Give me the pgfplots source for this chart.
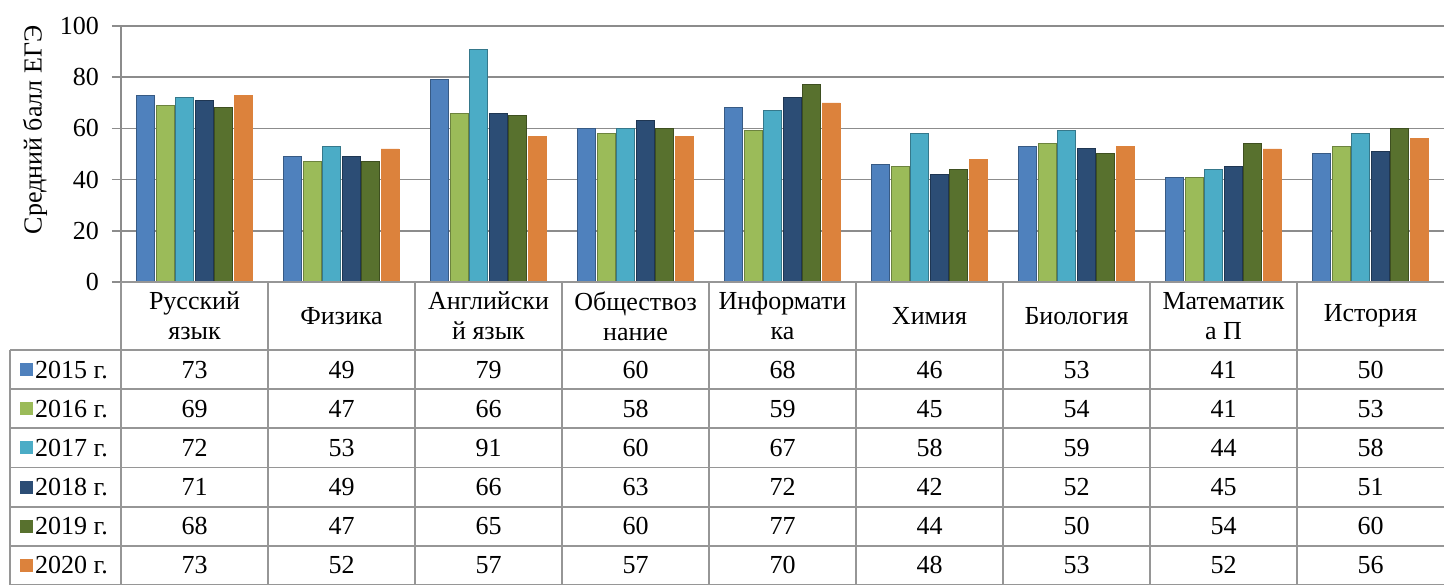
\documentclass[border=0pt]{standalone}
\usepackage{pgfplots}
\pgfplotsset{compat=1.18}
\usepackage{fontspec}
\setmainfont{Liberation Serif}
\definecolor{c15}{RGB}{79,129,189}
\definecolor{c16}{RGB}{155,187,89}
\definecolor{c17}{RGB}{75,172,198}
\definecolor{c18}{RGB}{44,77,117}
\definecolor{c19}{RGB}{88,113,46}
\definecolor{c20}{RGB}{220,130,60}
\definecolor{gridgray}{RGB}{140,140,140}
\definecolor{tblgray}{RGB}{150,150,150}
\newcommand{\tf}{\fontsize{26}{30}\selectfont}
\tikzset{bev/.style={fill=#1, draw=#1!70!black, line width=1pt}}
\begin{document}
\begin{tikzpicture}[x=1pt,y=1pt,font=\tf]
\useasboundingbox (-121,-303) rectangle (1323,282);
\begin{axis}[at={(0,0)}, anchor=south west, scale only axis,
  width=1323pt, height=256pt,
  xmin=-0.5, xmax=8.5, ymin=0, ymax=100,
  ytick={0,20,...,100}, xtick=\empty,
  axis y line=left, axis x line=none,
  y axis line style={draw=gridgray, line width=1.5pt, -},
  ymajorgrids, grid style={draw=gridgray, line width=1.5pt},
  major tick length=9pt, tick align=outside,
  ytick style={draw=gridgray, line width=1.5pt},
  yticklabel style={font=\tf, inner sep=0pt, xshift=-13pt},
  /pgf/number format/assume math mode=true,
  ylabel={Средний балл ЕГЭ},
  ylabel style={at={(axis description cs:-0.065,0.594)}, anchor=center, font=\tf},
  ybar=1.5pt, bar width=18pt,
]
\addplot[bev=c15] coordinates {(0,73) (1,49) (2,79) (3,60) (4,68) (5,46) (6,53) (7,41) (8,50)};
\addplot[bev=c16] coordinates {(0,69) (1,47) (2,66) (3,58) (4,59) (5,45) (6,54) (7,41) (8,53)};
\addplot[bev=c17] coordinates {(0,72) (1,53) (2,91) (3,60) (4,67) (5,58) (6,59) (7,44) (8,58)};
\addplot[bev=c18] coordinates {(0,71) (1,49) (2,66) (3,63) (4,72) (5,42) (6,52) (7,45) (8,51)};
\addplot[bev=c19] coordinates {(0,68) (1,47) (2,65) (3,60) (4,77) (5,44) (6,50) (7,54) (8,60)};
\addplot[fill=c20, draw=c20] coordinates {(0,73) (1,52) (2,57) (3,57) (4,70) (5,48) (6,53) (7,52) (8,56)};
\end{axis}
% table
\tikzset{tbl/.style={draw=tblgray, line width=1.8pt}}
\draw[tbl] (0,0) -- (1323,0);
\foreach \i in {0,...,8} \draw[tbl] (147*\i,0) -- (147*\i,-303);
\foreach \k in {0,...,6} \draw[tbl] (-111,-68-39.17*\k) -- (1323,-68-39.17*\k);
\draw[tbl] (-111,-68) -- (-111,-303);
% header
\foreach \h [count=\c from 0] in {{Русский\\язык},Физика,{Английски\\й язык},{Обществоз\\нание},{Информати\\ка},Химия,Биология,{Математик\\а П},История}
  \node[align=center, inner sep=0pt, font=\tf] at (73.5+147*\c,-34) {\h};
% values
\foreach \row [count=\r from 0] in {{73,49,79,60,68,46,53,41,50},{69,47,66,58,59,45,54,41,53},{72,53,91,60,67,58,59,44,58},{71,49,66,63,72,42,52,45,51},{68,47,65,60,77,44,50,54,60},{73,52,57,57,70,48,53,52,56}}
  \foreach \v [count=\c from 0] in \row
    \node[inner sep=0pt, font=\tf] at (73.5+147*\c,-87.6-39.17*\r) {\v};
% legend column
\foreach \col/\yr [count=\r from 0] in {c15/2015,c16/2016,c17/2017,c18/2018,c19/2019,c20/2020} {
  \fill[\col] (-101,-94-39.17*\r) rectangle ++(13,13);
  \node[anchor=west, inner sep=0pt, font=\tf] at (-86,-87.6-39.17*\r) {\yr~г.};
}
\end{tikzpicture}
\end{document}
